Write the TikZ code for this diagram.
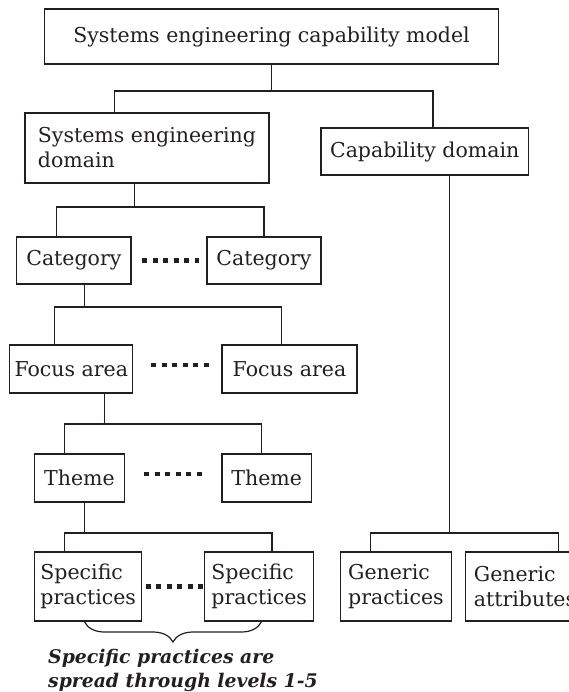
\documentclass[tikz,border=0pt]{standalone}
\usepackage{fontspec}
\setmainfont{DejaVu Serif}
\usetikzlibrary{decorations.pathreplacing}
\definecolor{ink}{HTML}{231F20}
\begin{document}
\begin{tikzpicture}[x=1pt,y=-1pt,
  box/.style={draw=ink, line width=1.2pt, inner sep=0pt, text=ink,
    font=\fontsize{20.5}{25}\selectfont, align=center},
  link/.style={draw=ink, line width=1.2pt},
  gap/.style={draw=ink, line width=4.5pt, dash pattern=on 5pt off 5.5pt},
  bracket/.style={draw=ink, line width=1.2pt, decorate,
    decoration={brace, mirror, amplitude=20pt}},
  note/.style={text=ink, inner sep=0pt,
    font=\fontsize{18.8}{24}\selectfont\bfseries\itshape}]
\useasboundingbox (0,0) rectangle (569,692);
\clip (0,0) rectangle (569,692);

% boxes
\node[box, minimum width=453.8pt, minimum height=55pt] (top) at (271.5,36.5)
  {Systems engineering capability model};
\node[box, align=left, minimum width=244pt, minimum height=70pt] (sed) at (147,148)
  {Systems engineering\\domain};
\node[box, minimum width=207.5pt, minimum height=47pt] (cap) at (424.7,151.5)
  {Capability domain};
\node[box, minimum width=114.3pt, minimum height=47pt] (cat1) at (73.9,260.5) {Category};
\node[box, minimum width=114pt, minimum height=47pt] (cat2) at (264,260.5) {Category};
\node[box, minimum width=123pt, minimum height=48pt] (fa1) at (71.3,369) {Focus area};
\node[box, minimum width=135pt, minimum height=48pt] (fa2) at (289.5,369) {Focus area};
\node[box, minimum width=89.3pt, minimum height=48pt] (th1) at (79.5,478) {Theme};
\node[box, minimum width=89.4pt, minimum height=48pt] (th2) at (266.7,478) {Theme};
\node[box, align=left, minimum width=106.8pt, minimum height=69pt] (sp1) at (88.2,586.5)
  {Specific\\practices};
\node[box, align=left, minimum width=108.9pt, minimum height=69pt] (sp2) at (259.2,586.5)
  {Specific\\practices};
\node[box, align=left, minimum width=110.7pt, minimum height=69pt] (gp) at (395.9,586.5)
  {Generic\\practices};
\node[box, align=left, minimum width=118.7pt, minimum height=69pt] (ga) at (525,586.5)
  {Generic\\attributes};

% tree connectors
\coordinate (j0) at (271.5,91);
\coordinate (b0l) at (114.3,91);
\coordinate (b0r) at (433,91);
\draw[link] (top.south) -- (j0);
\draw[link] (b0l |- sed.north) -- (b0l) -- (b0r) -- (b0r |- cap.north);

\coordinate (j1) at (134.3,207);
\coordinate (b1l) at (56.3,207);
\coordinate (b1r) at (263.9,207);
\draw[link] (sed.south -| j1) -- (j1);
\draw[link] (b1l |- cat1.north) -- (b1l) -- (b1r) -- (b1r |- cat2.north);

\coordinate (j2) at (84.6,307);
\coordinate (b2l) at (54.4,307);
\coordinate (b2r) at (281.7,307);
\draw[link] (cat1.south -| j2) -- (j2);
\draw[link] (b2l |- fa1.north) -- (b2l) -- (b2r) -- (b2r |- fa2.north);

\coordinate (j3) at (104.2,424);
\coordinate (b3l) at (64.6,424);
\coordinate (b3r) at (261.7,424);
\draw[link] (fa1.south -| j3) -- (j3);
\draw[link] (b3l |- th1.north) -- (b3l) -- (b3r) -- (b3r |- th2.north);

\coordinate (j4) at (84.6,533);
\coordinate (b4l) at (64.6,533);
\coordinate (b4r) at (271.9,533);
\draw[link] (th1.south -| j4) -- (j4);
\draw[link] (b4l |- sp1.north) -- (b4l) -- (b4r) -- (b4r |- sp2.north);

\coordinate (j5) at (449.4,533);
\coordinate (b5l) at (370.2,533);
\coordinate (b5r) at (558.3,533);
\draw[link] (cap.south -| j5) -- (j5);
\draw[link] (b5l |- gp.north) -- (b5l) -- (b5r) -- (b5r |- ga.north);

% dotted gaps between sibling boxes
\draw[gap] ([xshift=10.6pt]cat1.east) -- ([xshift=-7.4pt]cat2.west);
\draw[gap] ([xshift=17.8pt,yshift=4pt]fa1.east) -- ([xshift=-12.2pt,yshift=4pt]fa2.west);
\draw[gap] ([xshift=19.3pt,yshift=4pt]th1.east) -- ([xshift=-19.8pt,yshift=4pt]th2.west);
\draw[gap] ([xshift=3.6pt]sp1.east) -- ([xshift=-1.4pt]sp2.west);

% brace under the specific practices
\coordinate (bl) at (84.6,622);
\coordinate (br) at (261.3,622);
\draw[bracket] (bl) -- (br);
\node[note, anchor=base west] (n1) at (48,663) {Specific practices are};
\node[note, anchor=base west] (n2) at (48,687) {spread through levels 1-5};
\end{tikzpicture}
\end{document}
